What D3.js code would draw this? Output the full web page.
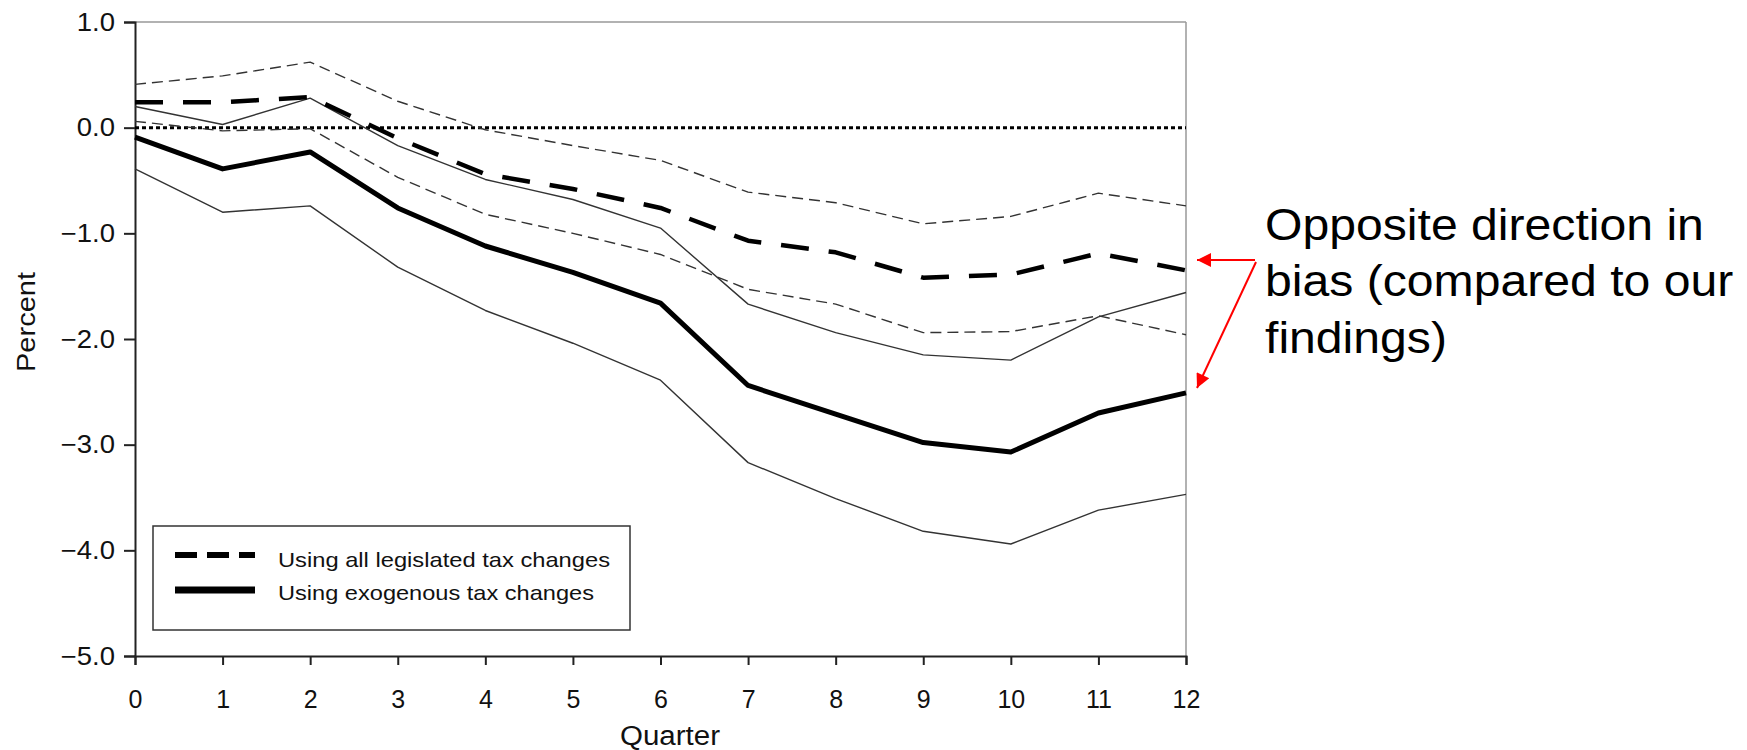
<!DOCTYPE html>
<html>
<head>
<meta charset="utf-8">
<script src="https://cdn.jsdelivr.net/npm/d3@7"></script>
<style>
  body { margin: 0; background: #fff; }
  svg text { font-family: "Liberation Sans", Arial, sans-serif; }
</style>
</head>
<body>
<svg id="chart" width="1747" height="750"></svg>
<script>
// quarters 0..12
let quarters = [0, 1, 2, 3, 4, 5, 6, 7, 8, 9, 10, 11, 12];
// all legislated tax changes: estimate and band
let allEst   = [0.24, 0.24, 0.29, -0.10, -0.44, -0.58, -0.76, -1.07, -1.18, -1.42, -1.39, -1.19, -1.35];
let allUpper = [0.41, 0.49, 0.62, 0.25, -0.02, -0.17, -0.31, -0.61, -0.71, -0.91, -0.84, -0.62, -0.74];
let allLower = [0.06, -0.03, -0.01, -0.47, -0.82, -1.00, -1.20, -1.53, -1.67, -1.94, -1.93, -1.78, -1.96];
// exogenous tax changes: estimate and band
let exoEst   = [-0.09, -0.39, -0.23, -0.76, -1.12, -1.37, -1.66, -2.44, -2.71, -2.98, -3.07, -2.70, -2.51];
let exoUpper = [0.20, 0.03, 0.28, -0.17, -0.49, -0.68, -0.95, -1.67, -1.94, -2.15, -2.20, -1.79, -1.56];
let exoLower = [-0.39, -0.80, -0.74, -1.32, -1.73, -2.04, -2.39, -3.17, -3.51, -3.82, -3.94, -3.62, -3.47];

let yTicks = [1, 0, -1, -2, -3, -4, -5];
let legendLabels = ['Using all legislated tax changes', 'Using exogenous tax changes'];
let noteLines = ['Opposite direction in', 'bias (compared to our', 'findings)'];

let svg = d3.select('#chart');

// 比例尺
let x = d3.scaleLinear().domain([0, 12]).range([135, 1186]);
let y = d3.scaleLinear().domain([-5, 1]).range([656, 22]);

// 边框: 上 右 灰色
svg.append('line').attr('x1', x(0)).attr('x2', x(12)).attr('y1', y(1)).attr('y2', y(1))
    .attr('stroke', '#999').attr('stroke-width', 1.5);
svg.append('line').attr('x1', x(12)).attr('x2', x(12)).attr('y1', y(1)).attr('y2', y(-5))
    .attr('stroke', '#999').attr('stroke-width', 1.5);

// 坐标轴
let yAxis = svg.append('g')
    .attr('transform', 'translate(' + x(0) + ',0)')
    .call(d3.axisLeft(y).tickValues(yTicks).tickFormat(d3.format('.1f')).tickSize(11).tickPadding(9));
let xAxis = svg.append('g')
    .attr('transform', 'translate(0,' + y(-5) + ')')
    .call(d3.axisBottom(x).tickValues(quarters).tickFormat(d3.format('d')).tickSize(9).tickPadding(25));

[yAxis, xAxis].forEach(function (g) {
    g.select('.domain').attr('stroke', '#222').attr('stroke-width', 2);
    g.selectAll('.tick line').attr('stroke', '#222').attr('stroke-width', 2);
    g.selectAll('.tick text').attr('fill', '#111').style('font-size', '25px')
        .style('font-family', '"Liberation Sans", Arial, sans-serif');
});
// y 轴标签稍宽一点
yAxis.selectAll('.tick text').each(function () {
    let w = this.getComputedTextLength();
    d3.select(this).attr('textLength', w * 1.1).attr('lengthAdjust', 'spacingAndGlyphs');
});

svg.append('text')
    .attr('x', 670).attr('y', 745)
    .attr('text-anchor', 'middle').style('font-size', '27px').attr('fill', '#111')
    .attr('textLength', 100).attr('lengthAdjust', 'spacingAndGlyphs')
    .text('Quarter');
svg.append('text')
    .attr('transform', 'translate(35,' + 322 + ') rotate(-90)')
    .attr('text-anchor', 'middle').style('font-size', '26px').attr('fill', '#111')
    .attr('textLength', 100).attr('lengthAdjust', 'spacingAndGlyphs')
    .text('Percent');

// 零线
svg.append('line')
    .attr('x1', x(0)).attr('x2', x(12)).attr('y1', y(0)).attr('y2', y(0))
    .attr('stroke', '#000').attr('stroke-width', 3).attr('stroke-dasharray', '4,3');

// 画线
let line = d3.line().x((d, i) => x(quarters[i])).y(d => y(d));
let series = [
    {data: allUpper, w: 1.4, dash: '11,6', color: '#333'},
    {data: allLower, w: 1.4, dash: '11,6', color: '#333'},
    {data: exoUpper, w: 1.4, dash: null, color: '#333'},
    {data: exoLower, w: 1.4, dash: null, color: '#333'},
    {data: allEst, w: 4.5, dash: '28,20', color: '#000'},
    {data: exoEst, w: 5, dash: null, color: '#000'}
];
series.forEach(function (s) {
    svg.append('path')
        .datum(s.data)
        .attr('d', line)
        .attr('fill', 'none')
        .attr('stroke', s.color)
        .attr('stroke-width', s.w)
        .attr('stroke-linejoin', 'round')
        .attr('stroke-dasharray', s.dash);
});

// 图例
let gLegend = svg.append('g');
gLegend.append('rect')
    .attr('x', 153).attr('y', 526).attr('width', 477).attr('height', 104)
    .attr('fill', '#fff').attr('stroke', '#333').attr('stroke-width', 1.5);
gLegend.append('line').attr('x1', 175).attr('x2', 255).attr('y1', 555).attr('y2', 555)
    .attr('stroke', '#000').attr('stroke-width', 6).attr('stroke-dasharray', '22,10');
gLegend.append('line').attr('x1', 175).attr('x2', 255).attr('y1', 590).attr('y2', 590)
    .attr('stroke', '#000').attr('stroke-width', 7);
gLegend.selectAll('text.leg')
    .data(legendLabels)
    .enter()
    .append('text')
    .attr('class', 'leg')
    .attr('x', 278)
    .attr('y', (d, i) => 567 + i * 33)
    .attr('fill', '#111')
    .style('font-size', '21px')
    .attr('textLength', (d, i) => i === 0 ? 332 : 316)
    .attr('lengthAdjust', 'spacingAndGlyphs')
    .text(d => d);

// 注释文字 (横向略拉伸)
svg.append('g')
    .attr('transform', 'translate(1265,0) scale(1.07,1)')
    .selectAll('text.note')
    .data(noteLines)
    .enter()
    .append('text')
    .attr('class', 'note')
    .attr('x', 0)
    .attr('y', (d, i) => 240 + i * 56.5)
    .attr('fill', '#000')
    .style('font-size', '45px')
    .text(d => d);

// 红色箭头
let defs = svg.append('defs');
defs.append('marker')
    .attr('id', 'arrow-red')
    .attr('viewBox', '0 0 10 10')
    .attr('refX', 10).attr('refY', 5)
    .attr('markerWidth', 16).attr('markerHeight', 14)
    .attr('markerUnits', 'userSpaceOnUse')
    .attr('orient', 'auto')
    .append('path')
    .attr('d', 'M0,0 L10,5 L0,10 z')
    .attr('fill', '#f00');

svg.append('line')
    .attr('x1', 1255).attr('y1', 260).attr('x2', 1197).attr('y2', 260)
    .attr('stroke', '#f00').attr('stroke-width', 2)
    .attr('marker-end', 'url(#arrow-red)');
svg.append('line')
    .attr('x1', 1256).attr('y1', 262).attr('x2', 1197).attr('y2', 388)
    .attr('stroke', '#f00').attr('stroke-width', 2)
    .attr('marker-end', 'url(#arrow-red)');
</script>
</body>
</html>
